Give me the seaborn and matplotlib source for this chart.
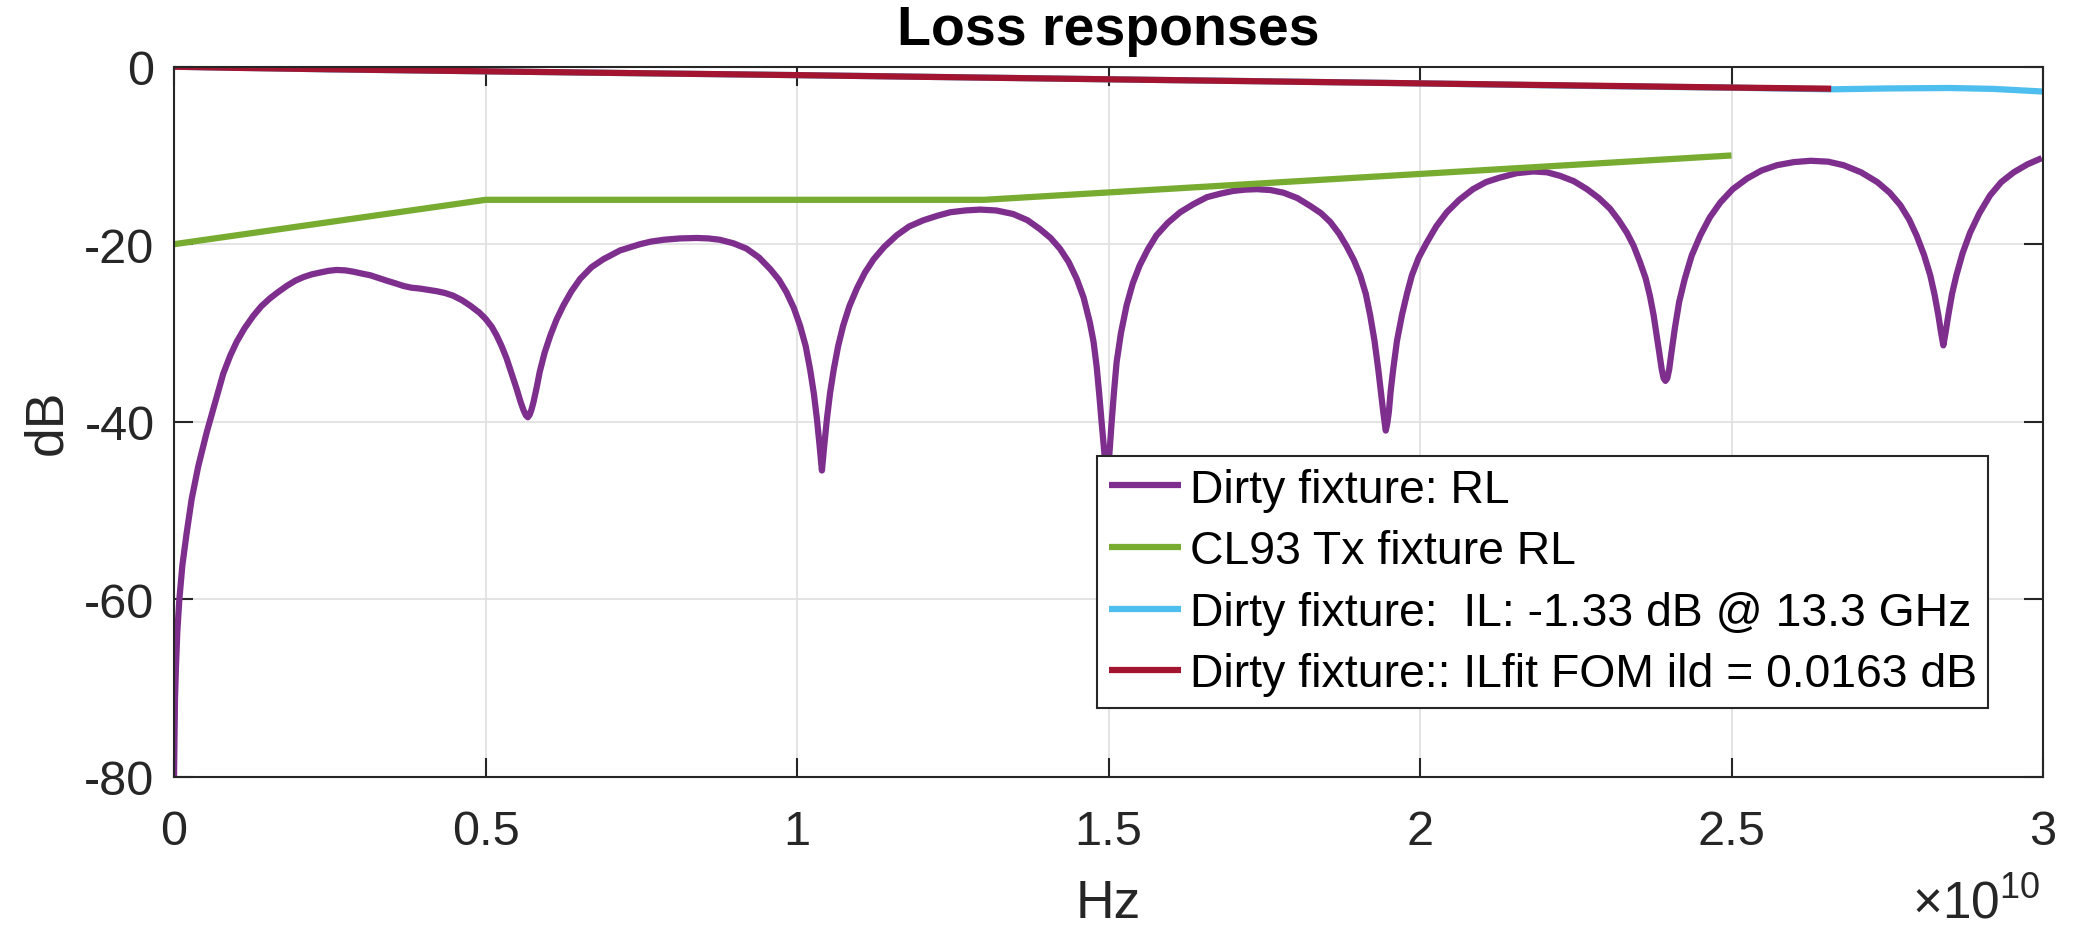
import matplotlib
matplotlib.use("Agg")
import matplotlib.pyplot as plt
from matplotlib.ticker import FuncFormatter
import seaborn as sns
import pandas as pd

# ---------------- data (frequency in units of 1e10 Hz, values in dB) ----------------
rl_freq = [0.0, 0.0016, 0.0032, 0.0053, 0.0086, 0.0134, 0.0204, 0.0284, 0.039, 0.0525, 0.063,
           0.079, 0.090, 0.1006, 0.113, 0.127, 0.140, 0.154, 0.167, 0.181, 0.195,
           0.208, 0.221, 0.234, 0.248, 0.261, 0.275, 0.288, 0.301, 0.315, 0.328, 0.341, 0.355,
           0.368, 0.381, 0.395, 0.408, 0.422, 0.435, 0.448, 0.462, 0.475,
           0.490, 0.5, 0.510, 0.518, 0.526, 0.534, 0.542, 0.550, 0.556, 0.561, 0.565, 0.568,
           0.571, 0.574, 0.577, 0.582, 0.587, 0.595, 0.604, 0.614, 0.625, 0.638, 0.652, 0.670,
           0.689, 0.716, 0.748, 0.766, 0.786, 0.812, 0.839, 0.858, 0.876, 0.898, 0.919, 0.939,
           0.957, 0.971, 0.983, 0.995, 1.005, 1.014, 1.021, 1.027, 1.032, 1.036, 1.040, 1.044,
           1.048, 1.053, 1.059, 1.066, 1.074, 1.084, 1.096, 1.109, 1.123, 1.140, 1.160, 1.180,
           1.203, 1.225, 1.246, 1.270, 1.294, 1.320, 1.347, 1.370, 1.390, 1.407, 1.422, 1.436,
           1.449, 1.460, 1.470, 1.476, 1.481, 1.485, 1.489, 1.494, 1.497, 1.501, 1.505, 1.509,
           1.513, 1.520, 1.529, 1.539, 1.550, 1.563, 1.577, 1.595, 1.615, 1.636, 1.658, 1.680,
           1.700, 1.720, 1.738, 1.760, 1.781, 1.803, 1.824, 1.841, 1.856, 1.870, 1.882, 1.894,
           1.904, 1.913, 1.920, 1.927, 1.933, 1.937, 1.941, 1.945, 1.9475, 1.950, 1.953, 1.957,
           1.963, 1.971, 1.979, 1.987, 1.998, 2.011, 2.026, 2.043, 2.063, 2.085, 2.106, 2.128,
           2.155, 2.182, 2.204, 2.225, 2.247, 2.268, 2.287, 2.305, 2.319, 2.332, 2.343, 2.353,
           2.362, 2.369, 2.375, 2.380, 2.384, 2.388, 2.391, 2.394, 2.397, 2.400, 2.404, 2.409,
           2.416, 2.425, 2.436, 2.450, 2.465, 2.482, 2.502, 2.525, 2.548, 2.573, 2.600, 2.627,
           2.655, 2.680, 2.708, 2.734, 2.754, 2.771, 2.785, 2.797, 2.809, 2.819, 2.826, 2.832,
           2.836, 2.840, 2.844, 2.848, 2.854, 2.861, 2.871, 2.883, 2.898, 2.915, 2.933, 2.953,
           2.975, 2.998]
rl_db = [-80.0, -71.2, -67.5, -63.7, -60.0, -56.2, -52.5, -48.7, -45.0, -41.2, -38.6,
         -34.6, -32.6, -31.0, -29.5, -28.1, -27.0, -26.1, -25.4, -24.7, -24.1,
         -23.7, -23.4, -23.2, -23.0, -22.9, -22.95, -23.1, -23.3, -23.5, -23.8, -24.1, -24.4,
         -24.7, -24.9, -25.0, -25.15, -25.3, -25.5, -25.8, -26.3, -26.9,
         -27.7, -28.4, -29.3, -30.3, -31.5, -32.9, -34.6, -36.3, -37.7, -38.7, -39.3, -39.5,
         -39.2, -38.6, -37.8, -36.2, -34.4, -32.2, -30.3, -28.5, -26.9, -25.3, -23.9, -22.6,
         -21.7, -20.7, -20.0, -19.7, -19.5, -19.35, -19.3, -19.35, -19.5, -19.9, -20.5, -21.5,
         -22.8, -24.0, -25.4, -27.2, -29.2, -31.5, -34.1, -36.8, -39.7, -42.5, -45.5, -42.5,
         -39.7, -36.8, -34.1, -31.5, -29.2, -27.0, -25.0, -23.2, -21.7, -20.3, -19.0, -18.0,
         -17.3, -16.8, -16.4, -16.2, -16.1, -16.2, -16.6, -17.3, -18.3, -19.3, -20.5, -22.0,
         -23.9, -26.0, -28.8, -31.0, -33.8, -36.8, -40.1, -44.0, -48.0, -44.0, -40.1, -36.5,
         -33.3, -30.0, -26.9, -24.4, -22.4, -20.6, -19.0, -17.6, -16.4, -15.5, -14.7, -14.3,
         -14.0, -13.85, -13.8, -13.9, -14.2, -14.8, -15.7, -16.5, -17.5, -18.8, -20.2, -21.8,
         -23.5, -25.6, -28.0, -30.9, -34.1, -36.5, -38.9, -41.0, -40.2, -38.9, -36.5, -34.1,
         -30.9, -28.0, -25.6, -23.5, -21.5, -19.8, -18.0, -16.4, -15.0, -13.8, -13.0, -12.5,
         -12.0, -11.8, -11.9, -12.3, -12.9, -13.8, -14.8, -16.0, -17.3, -18.7, -20.2, -22.0,
         -23.8, -25.8, -28.0, -30.3, -32.2, -34.1, -35.1, -35.4, -35.1, -34.1, -32.0, -29.5,
         -26.5, -23.9, -21.3, -19.0, -17.0, -15.3, -13.8, -12.6, -11.7, -11.1, -10.75, -10.6,
         -10.7, -11.1, -11.9, -13.0, -14.2, -15.6, -17.2, -19.0, -21.2, -23.5, -25.7, -28.0,
         -29.8, -31.4, -29.8, -28.0, -25.6, -23.5, -21.0, -18.7, -16.5, -14.5, -13.0, -11.9,
         -11.0, -10.3]

mask_freq = [0.0, 0.5, 1.3, 2.5]
mask_db = [-20.0, -15.0, -15.0, -10.0]

il_freq = [0.0, 0.25, 0.5, 0.75, 1.0, 1.25, 1.5, 1.75, 2.0, 2.25, 2.4, 2.5, 2.6, 2.66, 2.75, 2.85, 2.92, 3.0]
il_db = [0.0, -0.30, -0.52, -0.74, -0.95, -1.18, -1.42, -1.64, -1.88, -2.15, -2.28, -2.36, -2.48,
         -2.55, -2.45, -2.40, -2.50, -2.80]

ilfit_freq = [0.0, 0.1, 0.25, 0.5, 1.0, 1.5, 2.0, 2.5, 2.66]
ilfit_db = [0.0, -0.13, -0.29, -0.52, -0.95, -1.42, -1.88, -2.35, -2.48]

labels = ["Dirty fixture: RL",
          "CL93 Tx fixture RL",
          "Dirty fixture:  IL: -1.33 dB @ 13.3 GHz",
          "Dirty fixture:: ILfit FOM ild = 0.0163 dB"]
colors = ["#7E2F8E", "#77AC30", "#4DBEEE", "#A2142F"]

x_ticks = [0, 0.5, 1, 1.5, 2, 2.5, 3]
y_ticks = [-80, -60, -40, -20, 0]
title = "Loss responses"
x_label = "Hz"
y_label = "dB"
HZ_SCALE = 1e10

# ---------------- style ----------------
sns.set_theme(style="ticks")
plt.rcParams["font.family"] = ["Liberation Sans", "DejaVu Sans"]
plt.rcParams["mathtext.fontset"] = "custom"
plt.rcParams["mathtext.rm"] = "Liberation Sans"
plt.rcParams["mathtext.it"] = "Liberation Sans"
plt.rcParams["axes.unicode_minus"] = False

W, H = 2075, 928
fig = plt.figure(figsize=(W / 100, H / 100), dpi=100)
L, R, T, B = 174, 2043, 67.7, 777.7
ax = fig.add_axes([L / W, 1 - B / H, (R - L) / W, (B - T) / H])

TXT = "#262626"
LW = 4.5
series = [(rl_freq, rl_db), (mask_freq, mask_db), (il_freq, il_db), (ilfit_freq, ilfit_db)]
for (fx, fy), lab, col in zip(series, labels, colors):
    df = pd.DataFrame({"Hz": [v * HZ_SCALE for v in fx], "dB": fy})
    sns.lineplot(data=df, x="Hz", y="dB", ax=ax, color=col, lw=LW, label=lab,
                 estimator=None, sort=False)
for ln in ax.lines:
    ln.set_linewidth(LW)
    ln.set_solid_joinstyle("round")
    ln.set_solid_capstyle("butt")

ax.set_xlim(0, 3 * HZ_SCALE)
ax.set_ylim(-80, 0)
ax.set_xticks([v * HZ_SCALE for v in x_ticks])
ax.set_yticks(y_ticks)
ax.xaxis.set_major_formatter(FuncFormatter(lambda v, p: "%g" % (v / HZ_SCALE)))
ax.yaxis.set_major_formatter(FuncFormatter(lambda v, p: "%g" % v))

ax.grid(True, color="#DFDFDF", linewidth=1.2)
ax.set_axisbelow(True)
for s in ax.spines.values():
    s.set_color(TXT)
    s.set_linewidth(1.5)
    s.set_visible(True)
    s.set_zorder(3)
ax.tick_params(axis="both", direction="in", length=13.7, width=1.5, color=TXT,
               labelsize=35, labelcolor=TXT, top=True, right=True)
ax.tick_params(axis="x", pad=23)
ax.tick_params(axis="y", pad=14)

ax.set_title(title, fontsize=40, fontweight="bold", color="black", pad=16)
ax.set_xlabel(x_label, fontsize=38.5, color=TXT)
ax.set_ylabel(y_label, fontsize=38.5, color=TXT)
ax.xaxis.set_label_coords((L + R) / 2 / W, 1 - 879 / H, transform=fig.transFigure)
ax.yaxis.set_label_coords(72 / W, 1 - 422.7 / H, transform=fig.transFigure)

fig.text(2040 / W, 1 - 918 / H, r"$\times\mathregular{10^{10}}$", fontsize=37, color=TXT,
         ha="right", va="baseline")

leg = ax.legend(loc="upper left", bbox_to_anchor=((1097 - L) / (R - L), 1 - (457 - T) / (B - T)),
                borderaxespad=0, fontsize=33.4, frameon=True, fancybox=False, framealpha=1,
                edgecolor=TXT, handlelength=1.55, handletextpad=0.2, borderpad=0.25,
                labelspacing=0.38)
leg.get_frame().set_linewidth(1.5)
for t in leg.get_texts():
    t.set_color("black")
for h in leg.get_lines():
    h.set_linewidth(LW)

fig.savefig("out.png", dpi=100)
